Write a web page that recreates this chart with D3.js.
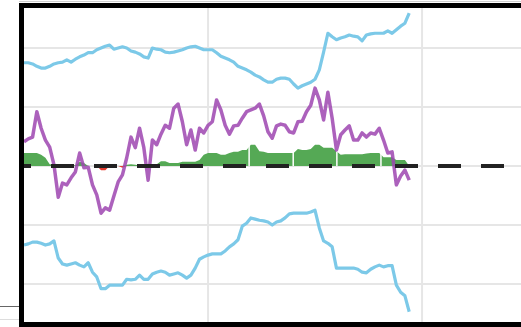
<!DOCTYPE html>
<html>
<head>
<meta charset="utf-8">
<script src="https://cdn.jsdelivr.net/npm/d3@7"></script>
<style>
  html, body { margin: 0; padding: 0; background: #fff; }
  svg { display: block; }
</style>
</head>
<body>
<div id="chart"></div>
<script>
// Values, in grid units (one horizontal gridline = 1)
const signal = [
  0.41, 0.46, 0.49, 0.92, 0.64, 0.44, 0.32, 0.02, -0.53, -0.29,
  -0.32, -0.20, -0.10, 0.22, -0.03, -0.02, -0.32, -0.49, -0.80, -0.71,
  -0.75, -0.51, -0.27, -0.15, 0.14, 0.49, 0.31, 0.64, 0.31, -0.24,
  0.44, 0.36, 0.54, 0.69, 0.64, 0.98, 1.05, 0.75, 0.36, 0.61,
  0.27, 0.64, 0.56, 0.69, 0.75, 1.12, 0.95, 0.69, 0.54, 0.68,
  0.69, 0.81, 0.92, 0.95, 0.98, 1.05, 0.85, 0.58, 0.47, 0.68,
  0.71, 0.69, 0.58, 0.56, 0.75, 0.76, 0.92, 1.03, 1.32, 1.12,
  0.78, 1.25, 0.81, 0.27, 0.53, 0.61, 0.68, 0.44, 0.44, 0.56,
  0.49, 0.56, 0.54, 0.64, 0.44, 0.22, 0.24, -0.32, -0.17, -0.07,
  -0.24
];

const upperBand = [
  1.75, 1.75, 1.73, 1.69, 1.66, 1.66, 1.69, 1.73, 1.75, 1.76,
  1.80, 1.76, 1.81, 1.85, 1.88, 1.92, 1.92, 1.97, 2.00, 2.03,
  2.05, 1.98, 2.00, 2.02, 2.00, 1.95, 1.93, 1.90, 1.85, 1.83,
  2.00, 1.98, 1.97, 1.93, 1.92, 1.93, 1.95, 1.97, 2.00, 2.02,
  2.03, 2.00, 1.97, 1.97, 1.97, 1.92, 1.86, 1.83, 1.80, 1.76,
  1.69, 1.66, 1.63, 1.59, 1.54, 1.51, 1.46, 1.42, 1.42, 1.47,
  1.49, 1.49, 1.47, 1.39, 1.32, 1.36, 1.39, 1.42, 1.47, 1.63,
  1.93, 2.25, 2.19, 2.14, 2.17, 2.19, 2.22, 2.20, 2.19, 2.12,
  2.22, 2.24, 2.25, 2.25, 2.25, 2.29, 2.25, 2.31, 2.37, 2.42,
  2.59
];

const lowerBand = [
  -1.34, -1.32, -1.29, -1.29, -1.31, -1.34, -1.32, -1.27, -1.56, -1.66,
  -1.68, -1.66, -1.64, -1.68, -1.71, -1.64, -1.80, -1.88, -2.08, -2.08,
  -2.02, -2.02, -2.02, -2.02, -1.92, -1.93, -1.92, -1.85, -1.92, -1.92,
  -1.83, -1.80, -1.78, -1.80, -1.85, -1.83, -1.81, -1.85, -1.90, -1.85,
  -1.73, -1.58, -1.54, -1.51, -1.49, -1.49, -1.49, -1.44, -1.37, -1.32,
  -1.25, -1.02, -0.97, -0.88, -0.90, -0.92, -0.93, -0.95, -1.00, -0.95,
  -0.93, -0.88, -0.81, -0.80, -0.80, -0.80, -0.80, -0.78, -0.75, -1.05,
  -1.27, -1.31, -1.37, -1.73, -1.73, -1.73, -1.73, -1.73, -1.75, -1.80,
  -1.81, -1.75, -1.71, -1.68, -1.71, -1.69, -1.69, -2.02, -2.14, -2.20,
  -2.47
];

// bars around zero: positive drawn green, negative red
const flow = [
  0.22, 0.22, 0.22, 0.22, 0.19, 0.14, 0.03, 0.02, 0.03, 0.02,
  0.01, 0.03, 0.01, 0.07, 0.05, 0.00, 0.00, 0.00, -0.07, -0.07,
  0.00, 0.00, 0.00, -0.03, 0.02, 0.03, 0.02, 0.01, 0.00, -0.04,
  0.02, 0.03, 0.08, 0.08, 0.05, 0.05, 0.05, 0.07, 0.07, 0.07,
  0.07, 0.10, 0.19, 0.22, 0.22, 0.22, 0.19, 0.19, 0.22, 0.24,
  0.24, 0.27, 0.27, 0.36, 0.36, 0.25, 0.24, 0.22, 0.22, 0.22,
  0.22, 0.22, 0.22, 0.22, 0.29, 0.27, 0.27, 0.29, 0.36, 0.36,
  0.31, 0.31, 0.31, 0.25, 0.19, 0.20, 0.20, 0.20, 0.20, 0.20,
  0.21, 0.22, 0.22, 0.22, 0.15, 0.15, 0.15, 0.10, 0.10, 0.10,
  0.00
];

// small white breaks through the green bars (x index)
const flowBreaks = [52.6, 62.9, 73.1, 83.4];

const yGrid = [-2, -1, 0, 1, 2];
const xGrid = [43, 93];

const width = 521;
const height = 327;
const plot = { left: 24, top: 8, right: 540, bottom: 322 };

const svg = d3.select("#chart")
  .append("svg")
  .attr("width", width)
  .attr("height", height);

const x = d3.scaleLinear().domain([0, 120]).range([plot.left, plot.left + 120 * 4.28]);
const y = d3.scaleLinear().domain([-2.644, 2.678]).range([plot.bottom, plot.top]);

const defs = svg.append("defs");
defs.append("clipPath").attr("id", "clip")
  .append("rect")
  .attr("x", plot.left).attr("y", plot.top)
  .attr("width", plot.right - plot.left).attr("height", plot.bottom - plot.top);

// the reference is a little soft, as if scaled up
defs.append("filter").attr("id", "soft")
  .attr("x", "-5%").attr("y", "-5%").attr("width", "110%").attr("height", "110%")
  .append("feGaussianBlur").attr("stdDeviation", 0.55);

// stray lines of the surrounding page
svg.append("line").attr("x1", 19).attr("x2", width).attr("y1", 1.5).attr("y2", 1.5)
  .attr("stroke", "#cfcfcf").attr("stroke-width", 1);
svg.append("line").attr("x1", 0).attr("x2", 19).attr("y1", 306.5).attr("y2", 306.5)
  .attr("stroke", "#666").attr("stroke-width", 1);
svg.append("line").attr("x1", 0).attr("x2", 19).attr("y1", 319.5).attr("y2", 319.5)
  .attr("stroke", "#ddd").attr("stroke-width", 1);

const g = svg.append("g").attr("clip-path", "url(#clip)")
  .append("g").attr("filter", "url(#soft)");

// gridlines
g.selectAll(".hgrid").data(yGrid).enter().append("line")
  .attr("x1", plot.left).attr("x2", plot.right)
  .attr("y1", (d) => y(d)).attr("y2", (d) => y(d))
  .attr("stroke", "#e6e6e6").attr("stroke-width", 2);
g.selectAll(".vgrid").data(xGrid).enter().append("line")
  .attr("x1", (d) => x(d)).attr("x2", (d) => x(d))
  .attr("y1", plot.top).attr("y2", plot.bottom)
  .attr("stroke", "#e6e6e6").attr("stroke-width", 2);

const line = d3.line().x((d, i) => x(i)).y((d) => y(d));

// bands
[upperBand, lowerBand].forEach((band) => {
  g.append("path").datum(band)
    .attr("d", line)
    .attr("fill", "none")
    .attr("stroke", "#7cc9e8")
    .attr("stroke-width", 3.2)
    .attr("stroke-linejoin", "round");
});

// green / red flow
const posArea = d3.area()
  .x((d, i) => x(i)).y0(y(0)).y1((d) => y(Math.max(d, 0)));
const negArea = d3.area()
  .x((d, i) => x(i)).y0(y(0)).y1((d) => y(Math.min(d, 0)));

g.append("path").datum(flow).attr("d", posArea).attr("fill", "#55a955");
g.append("path").datum(flow).attr("d", negArea).attr("fill", "#e53a2f");

g.selectAll(".brk").data(flowBreaks).enter().append("line")
  .attr("x1", (d) => x(d)).attr("x2", (d) => x(d))
  .attr("y1", y(0)).attr("y2", y(0.45))
  .attr("stroke", "#fff").attr("stroke-width", 1.5);

// signal line
g.append("path").datum(signal)
  .attr("d", line)
  .attr("fill", "none")
  .attr("stroke", "#9e47b0")
  .attr("stroke-opacity", 0.85)
  .attr("stroke-width", 3.5)
  .attr("stroke-linejoin", "round");

// zero line, dashed
g.append("line")
  .attr("x1", x(0)).attr("x2", x(120))
  .attr("y1", y(0)).attr("y2", y(0))
  .attr("stroke", "#222")
  .attr("stroke-width", 4)
  .attr("stroke-dasharray", "23,20")
  .attr("stroke-dashoffset", 16);

// heavy frame
svg.append("rect")
  .attr("x", plot.left - 2.5).attr("y", plot.top - 2.5)
  .attr("width", plot.right - plot.left + 5).attr("height", plot.bottom - plot.top + 5)
  .attr("fill", "none")
  .attr("stroke", "#000")
  .attr("stroke-width", 5);
</script>
</body>
</html>
